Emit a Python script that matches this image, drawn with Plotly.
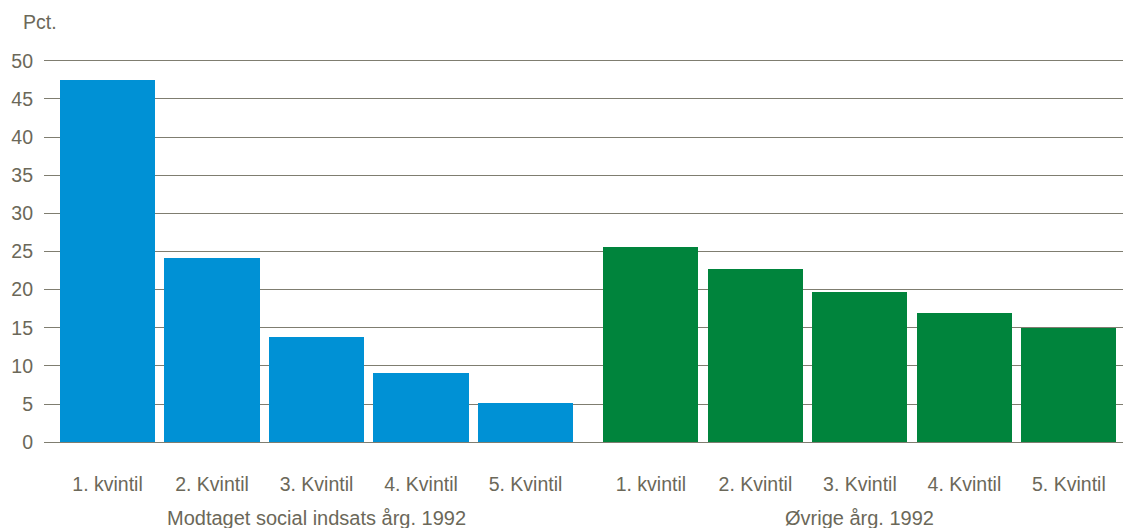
import plotly.graph_objects as go

# Andel pr. indkomstkvintil, to grupper
categories = ["1. kvintil", "2. Kvintil", "3. Kvintil", "4. Kvintil", "5. Kvintil"]
group_names = ["Modtaget social indsats årg. 1992", "Øvrige årg. 1992"]
social_values = [47.5, 24.2, 13.8, 9.1, 5.2]
oevrige_values = [25.6, 22.7, 19.7, 16.9, 15.0]
y_ticks = [0, 5, 10, 15, 20, 25, 30, 35, 40, 45, 50]

BLUE = "#0091d5"
GREEN = "#00843c"
TEXT = "#6b6859"
GRID = "#7f7d70"
FONT = "Liberation Sans, Arial, sans-serif"

GROUP_GAP = 0.2  # ekstra luft mellem de to grupper
n = len(categories)
x_social = [i for i in range(n)]
x_oevrige = [n + GROUP_GAP + i for i in range(n)]

fig = go.Figure()
fig.add_trace(go.Bar(x=x_social, y=social_values, marker=dict(color=BLUE, line=dict(width=0)),
                     width=0.91, name=group_names[0]))
fig.add_trace(go.Bar(x=x_oevrige, y=oevrige_values, marker=dict(color=GREEN, line=dict(width=0)),
                     width=0.91, name=group_names[1]))

fig.update_layout(
    width=1123, height=528,
    margin=dict(l=44, r=0, t=57, b=82),
    paper_bgcolor="white", plot_bgcolor="white",
    showlegend=False,
    font=dict(family=FONT, size=19, color=TEXT),
    bargap=0,
)

fig.update_xaxes(
    range=[-0.608, 9.718],
    tickmode="array",
    tickvals=x_social + x_oevrige,
    ticktext=categories + categories,
    showgrid=False, zeroline=False, showline=False,
    ticks="", ticklabelstandoff=24,
    tickfont=dict(family=FONT, size=19.5, color=TEXT),
)
fig.update_yaxes(
    range=[-0.5, 50.5],
    tickmode="array", tickvals=y_ticks,
    showgrid=True, gridcolor=GRID, gridwidth=1.2,
    zeroline=False, showline=False,
    ticks="", ticklabelstandoff=10,
    tickfont=dict(family=FONT, size=19.5, color=TEXT),
)

# Gruppenavne under kategorierne
for xs, name in [(x_social, group_names[0]), (x_oevrige, group_names[1])]:
    fig.add_annotation(
        x=(xs[0] + xs[-1]) / 2, y=0, xref="x", yref="paper",
        text=name, showarrow=False, yanchor="middle", yshift=-72,
        font=dict(family=FONT, size=20, color=TEXT),
    )

# Enhed over y-aksen
fig.add_annotation(
    x=0, y=1, xref="paper", yref="paper", text="Pct.", showarrow=False,
    xanchor="left", yanchor="middle", xshift=-23, yshift=35,
    font=dict(family=FONT, size=19.5, color=TEXT),
)

fig.write_html("out.html")
